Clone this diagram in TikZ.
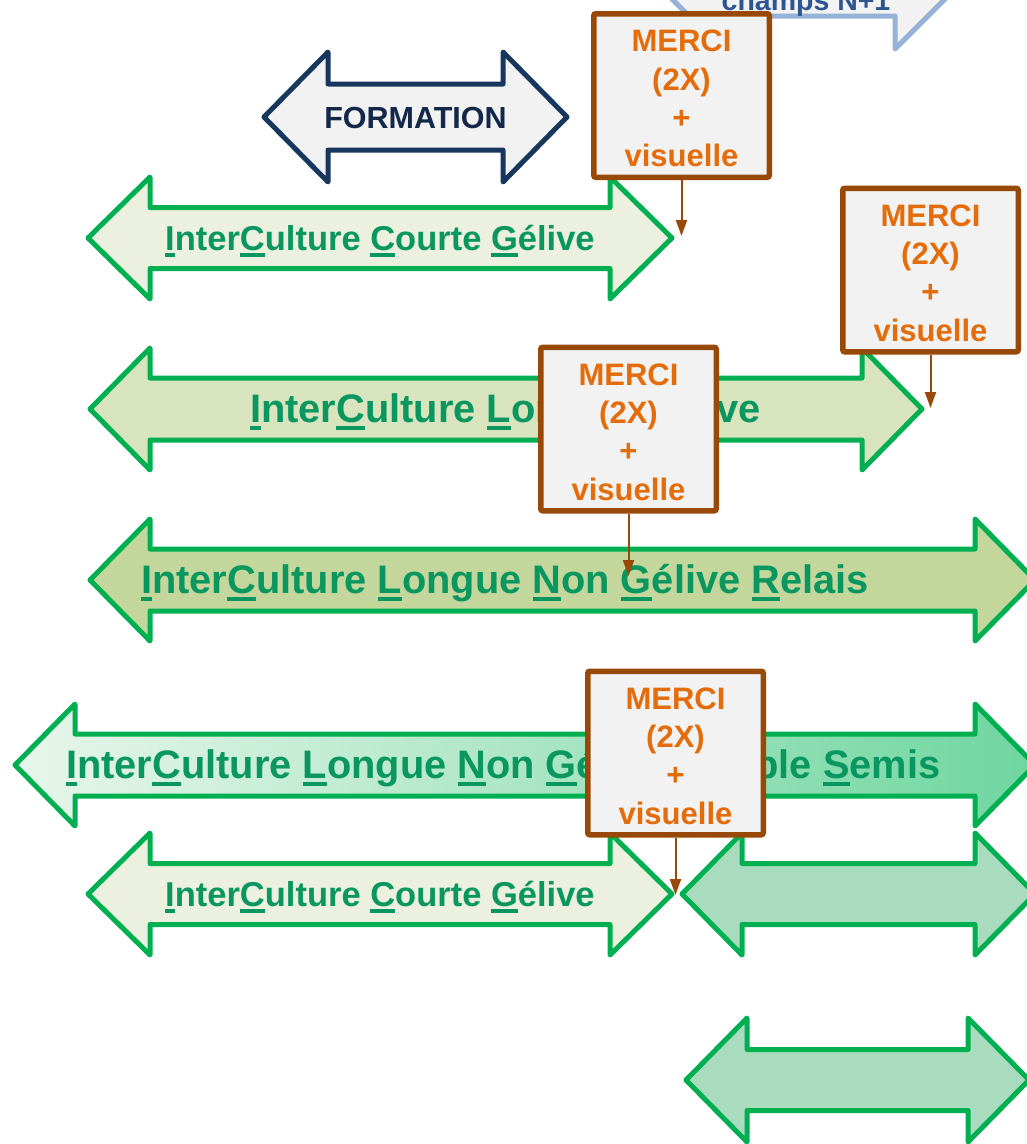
\documentclass[tikz,border=0pt]{standalone}
\usepackage{fontspec}
\setmainfont{Liberation Sans}
\usetikzlibrary{arrows.meta}
\definecolor{gstroke}{HTML}{00B050}
\definecolor{gtextc}{RGB}{10,150,95}
\definecolor{fillA}{HTML}{EBF1DE}
\definecolor{fillB}{HTML}{D7E4BD}
\definecolor{fillC}{HTML}{C3D69B}
\definecolor{fillD}{HTML}{A9DCBE}
\definecolor{gradL}{HTML}{E8F6EB}
\definecolor{gradR}{HTML}{6FD6A0}
\definecolor{brownc}{HTML}{984807}
\definecolor{orangec}{HTML}{E46C0A}
\definecolor{boxfill}{HTML}{F2F2F2}
\definecolor{navys}{HTML}{17375E}
\definecolor{navyt}{HTML}{14284A}
\definecolor{blues}{HTML}{95B3D7}
\definecolor{bluet}{RGB}{44,85,146}
\newcommand\ulc[1]{\setbox0\hbox{#1}\rlap{\rule[-0.2em]{\wd0}{0.1em}}#1}
\newcommand\icul{\ulc{I}nter\ulc{C}ulture}
% #1 style, #2 left tip x, #3 left head back x, #4 right head back x, #5 right tip x, #6 centre y, #7 head half height, #8 shaft half height
\newcommand\dbl[8]{\path[#1] (#2,#6) -- (#3,#6-#7) -- (#3,#6-#8) -- (#4,#6-#8) -- (#4,#6-#7) -- (#5,#6) -- (#4,#6+#7) -- (#4,#6+#8) -- (#3,#6+#8) -- (#3,#6+#7) -- cycle;}
\begin{document}
\begin{tikzpicture}[x=1pt,y=-1pt,
  garrow/.style={draw=gstroke,line width=5pt,line join=round},
  gtext/.style={text=gtextc,anchor=base west,inner sep=0pt},
  gsmall/.style={gtext,font=\fontsize{34.5}{40}\selectfont\bfseries},
  gbig/.style={gtext,font=\fontsize{39.8}{45}\selectfont\bfseries},
  merci/.style={draw=brownc,line width=5.5pt,fill=boxfill,rounded corners=2pt,
    minimum width=175.5pt,minimum height=163.5pt,inner sep=0pt},
  mtext/.style={inner sep=0pt,align=center,text=orangec,font=\fontsize{31}{38.3}\selectfont\bfseries},
  brarrow/.style={draw=brownc,line width=2pt,-{Triangle[width=11pt,length=16pt]}}]
\useasboundingbox (0,0) rectangle (1027,1144);
\clip (0,0) rectangle (1027,1144);
% top light-blue arrow (cut off)
\dbl{draw=blues,line width=5pt,line join=round,fill=boxfill}{661}{722}{895}{956}{-12}{61}{28}
\node[anchor=base,inner sep=0pt,text=bluet,font=\fontsize{28.5}{34}\selectfont\bfseries] (champs) at (806,10) {champs N+1};
% FORMATION
\dbl{draw=navys,line width=5pt,line join=round,fill=boxfill}{264}{328}{503}{567}{117}{65}{33}
\node[anchor=base,inner sep=0pt,text=navyt,font=\fontsize{30.5}{36}\selectfont\bfseries] (formation) at (415.5,128) {FORMATION};
% row 1
\dbl{garrow,fill=fillA}{88}{150}{610}{672}{238}{61}{30.5}
\node[gsmall] (t1) at (165,250) {\icul{} \ulc{C}ourte \ulc{G}élive};
% row 2
\dbl{garrow,fill=fillB}{90}{150}{862}{922}{409}{61}{31}
\node[gbig] (t2) at (250,422) {\icul{} \ulc{L}ongue \ulc{G}élive};
% row 3
\dbl{garrow,fill=fillC}{90}{150}{975}{1035}{580}{61}{31}
\node[gbig] (t3) at (141,593) {\icul{} \ulc{L}ongue \ulc{N}on \ulc{G}élive \ulc{R}elais};
% row 4
\dbl{garrow,left color=gradL,right color=gradR}{15}{75}{975}{1035}{765}{61}{31}
\node[gbig] (t4) at (66,778) {\icul{} \ulc{L}ongue \ulc{N}on \ulc{G}élive\hspace{16pt} \ulc{S}table \ulc{S}emis};
% row 5
\dbl{garrow,fill=fillA}{88}{150}{610}{672}{894}{61}{30.5}
\node[gsmall] (t5) at (165,906) {\icul{} \ulc{C}ourte \ulc{G}élive};
\dbl{garrow,fill=fillD}{682}{742}{975}{1035}{894}{61}{30.5}
% row 6
\dbl{garrow,fill=fillD}{686}{747}{968}{1029}{1080}{62}{30.5}
% MERCI boxes
\node[merci] (m1) at (681.5,95.5) {};
\node[merci] (m2) at (930.5,270) {};
\node[merci] (m3) at (628.5,429) {};
\node[merci] (m4) at (675.5,753) {};
\node[mtext] (m1t) at ([yshift=-3pt]m1.center) {MERCI\\(2X)\\+\\visuelle};
\node[mtext] (m2t) at ([yshift=-3pt]m2.center) {MERCI\\(2X)\\+\\visuelle};
\node[mtext] (m3t) at ([yshift=-3pt]m3.center) {MERCI\\(2X)\\+\\visuelle};
\node[mtext] (m4t) at ([yshift=-3pt]m4.center) {MERCI\\(2X)\\+\\visuelle};
\coordinate (p1) at (681.5,236);
\coordinate (p2) at (930.5,408);
\coordinate (p3) at (628.5,576);
\coordinate (p4) at (675.5,895);
\draw[brarrow] (m1.south) -- (p1);
\draw[brarrow] (m2.south) -- (p2);
\draw[brarrow] (m3.south) -- (p3);
\draw[brarrow] (m4.south) -- (p4);
\end{tikzpicture}
\end{document}
